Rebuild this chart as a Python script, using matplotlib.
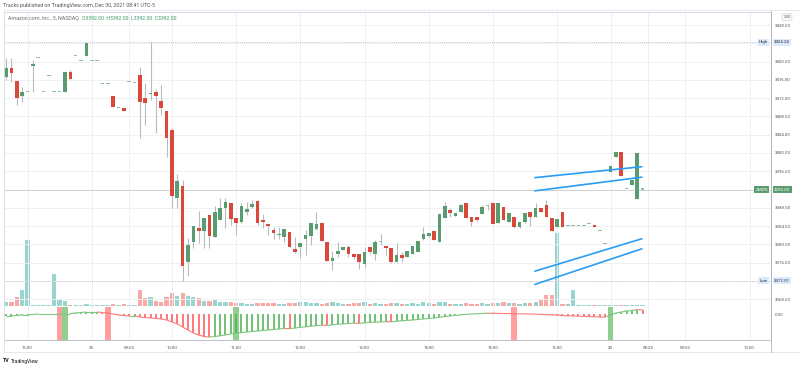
import matplotlib
matplotlib.use("Agg")
import matplotlib.pyplot as plt
import matplotlib.transforms as mtransforms
from matplotlib.collections import LineCollection
from matplotlib.lines import Line2D
import numpy as np

plt.rcParams["font.family"] = ["Roboto", "DejaVu Sans"]

# 5 minute bars, AMZN, Dec 28 close .. Dec 30 pre-market (bars without trades are skipped)
opens = [3416.7, 3418.6, 3415.8, 3412.5, 3413.4, 3419.0, 3420.8, 3413.4, 3416.9, 3413.4,
         3413.4, 3413.4, 3417.8, 3421.3, 3420.2, 3421.3, 3420.2, 3420.2, 3415.1, 3415.1,
         3412.5, 3409.9, 3409.9, 3415.6, 3415.3, 3417.1, 3412.1, 3413.0, 3413.4, 3411.4,
         3409.2, 3405.0, 3390.1, 3392.8, 3376.1, 3380.5, 3383.6, 3382.9, 3386.4, 3381.6,
         3385.3, 3387.9, 3389.0, 3385.8, 3384.9, 3387.1, 3388.2, 3389.5, 3385.3, 3384.4,
         3383.1, 3382.0, 3381.6, 3382.7, 3379.0, 3379.4, 3381.2, 3381.8, 3383.3, 3384.7,
         3380.5, 3376.3, 3377.9, 3378.7, 3379.4, 3377.9, 3377.9, 3375.7, 3379.4, 3377.9,
         3380.5, 3379.6, 3379.2, 3376.1, 3377.6, 3377.2, 3377.9, 3378.3, 3381.2, 3381.8,
         3382.9, 3380.5, 3385.8, 3387.5, 3386.2, 3387.1, 3389.0, 3386.0, 3386.0, 3386.6,
         3388.4, 3389.0, 3384.7, 3388.2, 3384.9, 3386.0, 3383.8, 3384.9, 3387.1, 3386.0,
         3387.9, 3388.6, 3385.8, 3383.8, 3387.1, 3384.0, 3384.0, 3384.0, 3384.0, 3384.4,
         3384.2, 3382.9, 3380.1, 3395.8, 3399.1, 3400.2, 3392.1, 3393.0, 3389.9, 3392.0]
highs = [3420.8, 3420.8, 3415.8, 3414.5, 3413.4, 3420.4, 3420.8, 3413.4, 3416.9, 3413.4,
         3413.4, 3417.8, 3418.2, 3421.3, 3420.2, 3424.1, 3420.2, 3420.2, 3415.1, 3415.1,
         3412.5, 3409.9, 3409.9, 3415.6, 3415.3, 3418.9, 3415.3, 3424.24, 3414.0, 3414.9,
         3409.2, 3405.5, 3395.4, 3394.1, 3381.4, 3384.0, 3387.3, 3385.8, 3386.4, 3388.4,
         3390.1, 3390.1, 3389.0, 3385.8, 3389.0, 3389.3, 3389.7, 3389.7, 3386.6, 3384.4,
         3383.8, 3383.8, 3383.3, 3382.7, 3381.6, 3380.3, 3383.1, 3384.7, 3387.1, 3384.7,
         3380.5, 3378.5, 3380.5, 3379.4, 3379.8, 3377.9, 3377.9, 3379.4, 3379.4, 3380.9,
         3382.2, 3379.6, 3379.2, 3380.3, 3378.3, 3378.5, 3379.6, 3380.7, 3383.8, 3382.5,
         3382.9, 3386.6, 3389.3, 3387.9, 3386.8, 3388.8, 3389.0, 3386.0, 3386.0, 3388.6,
         3388.8, 3389.0, 3389.0, 3388.2, 3386.8, 3386.0, 3384.9, 3386.8, 3387.1, 3389.0,
         3387.9, 3389.7, 3385.8, 3385.5, 3387.1, 3384.0, 3384.0, 3384.0, 3384.0, 3384.4,
         3384.2, 3382.9, 3380.1, 3397.2, 3400.2, 3400.2, 3392.1, 3394.1, 3400.0, 3392.0]
lows = [3416.0, 3415.6, 3410.5, 3411.2, 3413.4, 3413.4, 3420.8, 3413.4, 3416.9, 3413.4,
        3413.4, 3413.4, 3416.2, 3421.3, 3420.2, 3421.3, 3420.2, 3420.2, 3415.1, 3415.1,
        3410.1, 3409.9, 3409.2, 3415.6, 3415.3, 3403.3, 3406.1, 3411.6, 3404.4, 3408.3,
        3399.1, 3388.0, 3388.0, 3372.01, 3373.0, 3379.2, 3380.3, 3379.2, 3379.2, 3381.6,
        3385.3, 3383.6, 3384.2, 3382.0, 3384.7, 3386.4, 3387.9, 3384.2, 3383.6, 3382.0,
        3381.2, 3381.2, 3380.5, 3379.4, 3378.1, 3377.0, 3377.6, 3379.8, 3383.1, 3380.7,
        3376.3, 3374.4, 3377.2, 3378.7, 3377.2, 3376.8, 3374.6, 3375.0, 3377.9, 3376.5,
        3379.8, 3377.6, 3375.9, 3376.1, 3376.1, 3377.2, 3377.9, 3378.3, 3380.9, 3381.6,
        3380.9, 3380.5, 3385.8, 3386.0, 3386.2, 3387.1, 3385.8, 3384.0, 3385.1, 3386.6,
        3387.5, 3384.4, 3384.7, 3385.3, 3384.9, 3383.6, 3383.6, 3384.7, 3384.0, 3386.0,
        3387.1, 3386.0, 3382.9, 3383.8, 3383.8, 3384.0, 3384.0, 3384.0, 3384.0, 3384.4,
        3383.8, 3382.9, 3380.1, 3395.8, 3399.1, 3395.0, 3392.1, 3393.0, 3389.9, 3392.0]
closes = [3418.6, 3417.5, 3412.0, 3413.4, 3413.4, 3419.5, 3420.8, 3413.4, 3416.9, 3413.4,
          3413.4, 3417.8, 3416.2, 3421.3, 3420.2, 3424.1, 3420.2, 3420.2, 3415.1, 3415.1,
          3410.1, 3409.9, 3409.2, 3415.6, 3415.3, 3411.2, 3411.0, 3413.2, 3412.5, 3409.9,
          3403.3, 3390.6, 3393.9, 3375.2, 3379.8, 3384.0, 3382.9, 3385.8, 3381.8, 3387.1,
          3387.9, 3389.3, 3385.5, 3384.7, 3388.4, 3387.7, 3388.8, 3384.7, 3384.9, 3384.0,
          3382.5, 3382.2, 3383.3, 3379.4, 3378.3, 3380.3, 3382.0, 3384.7, 3384.4, 3380.7,
          3376.3, 3377.0, 3378.5, 3379.4, 3377.9, 3377.2, 3376.1, 3378.3, 3378.3, 3380.5,
          3380.5, 3379.2, 3376.1, 3377.6, 3377.0, 3378.5, 3379.6, 3380.7, 3382.2, 3382.5,
          3380.9, 3386.6, 3388.4, 3386.8, 3386.8, 3388.6, 3385.8, 3384.9, 3385.3, 3388.2,
          3388.4, 3384.4, 3389.0, 3385.3, 3386.8, 3383.8, 3384.9, 3386.8, 3386.0, 3387.9,
          3387.1, 3386.0, 3382.9, 3385.5, 3383.8, 3384.0, 3384.0, 3384.0, 3384.0, 3384.4,
          3383.8, 3382.9, 3380.1, 3397.2, 3400.2, 3395.0, 3392.1, 3394.1, 3400.0, 3392.0]
# volume in thousands of shares
volumes = [4, 4, 9, 16, 66, 1, 1, 1, 1, 32, 6, 5, 1, 1, 1, 1.5, 1, 1, 1, 1,
           1.5, 1, 1.5, 1, 1, 16, 8, 9, 5, 4, 9, 13, 10, 13, 10, 9, 8, 5, 5, 7,
           4, 4, 4, 3, 3, 2, 2, 3, 2.5, 3, 2.5, 2, 2, 3, 3, 4, 4, 3, 2.5, 2,
           3, 4, 2.5, 2, 2, 2.5, 3, 3.5, 2, 2.5, 2, 2, 3, 2.5, 2, 2, 2.5, 2, 4, 2.5,
           2, 4, 3.5, 2, 2, 2, 2.5, 2, 2, 2.5, 2, 3, 3, 3.5, 2.5, 3, 2, 2.5, 3, 4,
           6, 11, 11, 73, 2, 2, 16, 1, 1, 1, 1, 1, 1, 1, 1, 1, 1, 1, 1, 1]
# oscillator in the lower pane
osc = [-0.2, -0.2, -0.15, -0.1, -0.1, -0.05, 0.0, 0.0, 0.0, 0.0,
       0.0, 0.05, 0.05, 0.1, 0.15, 0.2, 0.2, 0.2, 0.15, 0.1,
       0.0, -0.1, -0.15, -0.2, -0.2, -0.3, -0.35, -0.4, -0.45, -0.5,
       -0.6, -0.8, -1.0, -1.3, -1.6, -1.9, -2.1, -2.25, -2.3, -2.25,
       -2.18, -2.1, -2.0, -1.92, -1.86, -1.8, -1.75, -1.7, -1.65, -1.6,
       -1.55, -1.5, -1.45, -1.47, -1.4, -1.33, -1.28, -1.22, -1.17, -1.12,
       -1.14, -1.08, -1.03, -0.99, -0.95, -0.92, -0.94, -0.89, -0.85, -0.82,
       -0.79, -0.76, -0.78, -0.72, -0.68, -0.64, -0.6, -0.55, -0.5, -0.45,
       -0.4, -0.33, -0.26, -0.2, -0.14, -0.08, -0.03, 0.0, 0.03, 0.06,
       0.08, 0.07, 0.06, 0.05, 0.04, 0.03, 0.02, 0.01, 0.0, -0.02,
       -0.04, -0.06, -0.09, -0.12, -0.15, -0.18, -0.2, -0.22, -0.24, -0.26,
       -0.28, -0.3, -0.32, -0.1, 0.1, 0.2, 0.3, 0.35, 0.45, 0.4]
signal_red = [10, 19, 95]
signal_green = [11, 43, 113]

tick_pos = [4, 16, 23, 31, 43, 55, 67, 79, 91, 103, 113, 120, 127, 139]
tick_labels = ["16:00", "29", "09:00", "10:00", "11:00", "12:00", "13:00", "14:00",
               "15:00", "16:00", "30", "08:25", "09:00", "10:00"]
price_ticks = [3428, 3420, 3416, 3412, 3408, 3404, 3400, 3396, 3388, 3384, 3380, 3376, 3368]
day_high = 3424.24
day_low = 3372.01
last_price = 3392.00

# trend lines drawn on the chart: (bar, price) start and end
trend_lines = [
    ((98.85, 3394.6), (118.85, 3397.0)),
    ((98.85, 3391.7), (118.85, 3394.7)),
    ((98.85, 3374.1), (118.85, 3381.2)),
    ((98.85, 3371.2), (118.85, 3379.0)),
]

GREEN = "#589c70"
RED = "#d8493c"
WICK = "#b8bbc2"
VOL_UP = "#97d5ce"
VOL_DN = "#f6aaa7"
GRID = "#eef0f4"
TXT = "#50535e"

o = np.array(opens)
h = np.array(highs)
l = np.array(lows)
c = np.array(closes)
idx = np.arange(len(o))
up = c >= o
flat = c == o

fig = plt.figure(figsize=(8, 3.68), dpi=100)
main_rect = [4 / 800, 1 - 307 / 368, 767 / 800, 295 / 368]
axv = fig.add_axes(main_rect)
ax = fig.add_axes(main_rect, sharex=axv)
ax.patch.set_visible(False)
ax2 = fig.add_axes([4 / 800, 1 - 340 / 368, 767 / 800, 33 / 368], sharex=axv)

# volume
axv.bar(idx, volumes, width=0.8, color=np.where(up, VOL_UP, VOL_DN), lw=0)
axv.set_ylim(-1.5, 293.5)
axv.set_yticks([])
axv.tick_params(axis="x", length=0, labelbottom=False)
for s in axv.spines.values():
    s.set_visible(False)

# grid
for p in price_ticks + [3424, 3392, 3372]:
    ax.axhline(p, color=GRID, lw=0.7, zorder=0)
for t in tick_pos:
    ax.axvline(t, color=GRID, lw=0.7, zorder=0)
    ax2.axvline(t, color=GRID, lw=0.7, zorder=0)

# reference lines
ax.axhline(last_price, color="#c9ccd2", lw=0.6, zorder=1)
ax.axhline(day_high, color="#b4b8c0", lw=0.6, ls=(0, (1, 1.5)), zorder=1)
ax.axhline(day_low, color="#b4b8c0", lw=0.6, ls=(0, (1, 1.5)), zorder=1)

# candles
ax.vlines(idx, l, h, color=WICK, lw=0.8, zorder=2)
body_low = np.minimum(o, c)
body_h = np.maximum(np.abs(c - o), 0.22)
body_col = np.where(flat, "#8fbda0", np.where(up, GREEN, RED))
ax.bar(idx, body_h, bottom=body_low, width=0.68, color=body_col, lw=0, zorder=3)

for (x0, y0), (x1, y1) in trend_lines:
    ax.plot([x0, x1], [y0, y1], color="#2a9df4", lw=1.2, zorder=4, solid_capstyle="round")

ax.set_xlim(-0.4, 143.0)
ax.set_ylim(3366.25, 3430.9)
ax.yaxis.tick_right()
ax.set_yticks(price_ticks)
ax.set_yticklabels(["%.2f" % p for p in price_ticks])
ax.tick_params(axis="y", length=0, pad=3, labelsize=3.2, labelcolor=TXT)
ax.tick_params(axis="x", length=0, labelbottom=False)
for name, s in ax.spines.items():
    s.set_color("#d1d4dc")
    s.set_linewidth(0.6)
ax.spines["right"].set_color("#b2b5be")
ax.spines["bottom"].set_color("#b2b5be")

# price labels on the right scale
tr = mtransforms.blended_transform_factory(ax.transAxes, ax.transData)
box_kw = dict(fontsize=3.2, va="center", transform=tr, zorder=6)
ax.text(1.004, day_high, "%.2f" % day_high, color="#2a2e39", ha="left",
        bbox=dict(boxstyle="square,pad=0.3", fc="#dbeafb", ec="none"), **box_kw)
ax.text(0.996, day_high, "High", color="#2a2e39", ha="right",
        bbox=dict(boxstyle="square,pad=0.3", fc="#dbeafb", ec="none"), **box_kw)
ax.text(1.004, day_low, "%.2f" % day_low, color="#2a2e39", ha="left",
        bbox=dict(boxstyle="square,pad=0.3", fc="#dbeafb", ec="none"), **box_kw)
ax.text(0.996, day_low, "Low", color="#2a2e39", ha="right",
        bbox=dict(boxstyle="square,pad=0.3", fc="#dbeafb", ec="none"), **box_kw)
ax.text(1.004, last_price, "%.2f" % last_price, color="white", ha="left",
        bbox=dict(boxstyle="square,pad=0.3", fc=GREEN, ec="none"), **box_kw)
ax.text(0.996, last_price, "AMZN", color="white", ha="right",
        bbox=dict(boxstyle="square,pad=0.3", fc=GREEN, ec="none"), **box_kw)
fig.text(787 / 800, 1 - 17 / 368, "USD", fontsize=2.8, color=TXT, ha="center", va="center",
         bbox=dict(boxstyle="round,pad=0.3", fc="white", ec="#c8cbd2", lw=0.5))

# lower pane
osc_a = np.array(osc)
rising = np.r_[True, np.diff(osc_a) >= 0]
for i in signal_red:
    ax2.axvspan(i - 0.55, i + 0.55, color="#ff9f9f", lw=0, zorder=1)
for i in signal_green:
    ax2.axvspan(i - 0.55, i + 0.55, color="#90cf90", lw=0, zorder=1)
ax2.vlines(idx, 0, osc_a, colors=np.where(rising, "#4caf50", "#ff5252"), lw=1.1, zorder=2)
pts = np.column_stack([idx, osc_a])
segs = np.stack([pts[:-1], pts[1:]], axis=1)
ax2.add_collection(LineCollection(segs, colors=np.where(rising[1:], "#7cc67f", "#ff7a7a"),
                                  lw=0.8, zorder=3))
ax2.set_ylim(-2.6, 0.7)
ax2.yaxis.tick_right()
ax2.set_yticks([0])
ax2.set_yticklabels(["0.00"])
ax2.tick_params(axis="y", length=0, pad=3, labelsize=3.2, labelcolor=TXT)
ax2.set_xticks(tick_pos)
ax2.set_xticklabels(tick_labels)
ax2.tick_params(axis="x", length=0, pad=4, labelsize=3.2, labelcolor=TXT)
for name, s in ax2.spines.items():
    s.set_color("#d1d4dc")
    s.set_linewidth(0.6)
ax2.spines["right"].set_color("#b2b5be")
ax2.spines["bottom"].set_color("#b2b5be")
ax2.spines["top"].set_visible(False)

# frame of time scale and price scale
fig.add_artist(Line2D([4 / 800, 1.0], [1 - 352 / 368] * 2, color="#e0e3eb", lw=0.6))
fig.add_artist(Line2D([4 / 800] * 2, [1 - 352 / 368, 1 - 10 / 368], color="#e0e3eb", lw=0.6))
fig.add_artist(Line2D([771 / 800] * 2, [1 - 352 / 368, 1 - 10 / 368], color="#b2b5be", lw=0.6))
fig.add_artist(Line2D([4 / 800, 1.0], [1 - 10 / 368] * 2, color="#e0e3eb", lw=0.6))

# header texts
fig.text(3 / 800, 1 - 6 / 368, "Tracks published on TradingView.com, Dec 30, 2021 08:41 UTC-5",
         fontsize=3.8, color="#555", va="center")
fig.text(8 / 800, 1 - 18 / 368, "Amazon.com, Inc., 5, NASDAQ", fontsize=3.8, color="#6a6d78", va="center")
fig.text(82 / 800, 1 - 18 / 368, "O3392.00  H3392.00  L3392.00  C3392.00", fontsize=3.7,
         color="#3f9a6a", va="center")
fig.text(3 / 800, 1 - 361 / 368, "TV", fontsize=3.8, color="#131722", va="center", weight="bold")
fig.text(11 / 800, 1 - 361 / 368, "TradingView", fontsize=3.6, color="#131722", va="center")

fig.savefig("out.png", dpi=100, facecolor="white")
